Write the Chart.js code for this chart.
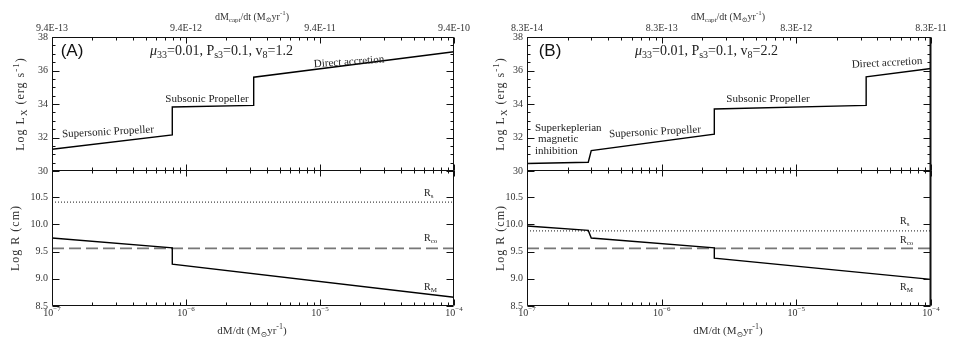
<!DOCTYPE html>
<html><head><meta charset="utf-8">
<script src="https://cdn.jsdelivr.net/npm/chart.js@4.4.0/dist/chart.umd.min.js"></script>
<style>
html,body{margin:0;padding:0;background:#fff;}
#wrap{position:relative;width:965px;height:343px;background:#fff;}
canvas{position:absolute;left:0;top:0;}
</style></head><body>
<div id="wrap">
<canvas id="cA1" width="965" height="343"></canvas>
<canvas id="cA2" width="965" height="343"></canvas>
<canvas id="cB1" width="965" height="343"></canvas>
<canvas id="cB2" width="965" height="343"></canvas>
</div>
<script>
// ---------- data ----------
const xDecades = [1e-7, 1e-6, 1e-5, 1e-4];
const bottomTickExp = ['-7', '-6', '-5', '-4'];
const topTicksA = ['9.4E-13', '9.4E-12', '9.4E-11', '9.4E-10'];
const topTicksB = ['8.3E-14', '8.3E-13', '8.3E-12', '8.3E-11'];
const lumTicks = [30, 32, 34, 36, 38];
const radTicks = [8.5, 9.0, 9.5, 10.0, 10.5];
const edgeX = [1e-7, 1e-4];

// Panel A
const lumAx = [1e-7, 7.9e-7, 7.9e-7, 3.2e-6, 3.2e-6, 1e-4];
const lumAy = [31.3, 32.15, 33.82, 33.92, 35.6, 37.12];
const radMAx = [1e-7, 7.9e-7, 7.9e-7, 1e-4];
const radMAy = [9.75, 9.57, 9.27, 8.66];
const radSAy = [10.41, 10.41];
const radCoAy = [9.56, 9.56];

// Panel B
const lumBx = [1e-7, 2.85e-7, 3.0e-7, 2.46e-6, 2.46e-6, 3.3e-5, 3.3e-5, 1e-4];
const lumBy = [30.45, 30.52, 31.22, 32.2, 33.7, 33.92, 35.62, 36.12];
const radMBx = [1e-7, 2.85e-7, 3.0e-7, 2.46e-6, 2.46e-6, 1e-4];
const radMBy = [9.97, 9.89, 9.75, 9.57, 9.38, 8.99];
const radSBy = [9.88, 9.88];
const radCoBy = [9.56, 9.56];

// ---------- helpers ----------
const SERIF = '"Liberation Serif","DejaVu Serif",serif';
const SANS = '"Liberation Sans","DejaVu Sans",sans-serif';
function pts(xs, ys) { return xs.map((x, i) => ({x: x, y: ys[i]})); }

function rich(ctx, parts, x, y, size, align, opts) {
  opts = opts || {};
  const fam = opts.family || SERIF;
  const col = opts.color || '#222';
  const fontFor = (m, it) => (it ? 'italic ' : '') + (m === 'n' ? size : Math.round(size * 0.72)) + 'px ' + fam;
  ctx.save();
  if (opts.spacing) ctx.letterSpacing = opts.spacing + 'px';
  let w = 0;
  for (const p of parts) { ctx.font = fontFor(p[1], p[2]); w += ctx.measureText(p[0]).width; }
  let cx = align === 'center' ? x - w / 2 : (align === 'right' ? x - w : x);
  ctx.fillStyle = col;
  ctx.textBaseline = 'middle';
  ctx.textAlign = 'left';
  for (const p of parts) {
    ctx.font = fontFor(p[1], p[2]);
    let dy = 0;
    if (p[1] === 'b') dy = size * 0.32;
    if (p[1] === 'p') dy = -size * 0.36;
    ctx.fillText(p[0], cx, y + dy);
    cx += ctx.measureText(p[0]).width;
  }
  ctx.restore();
  return w;
}
function richRot(ctx, parts, x, y, size, angleDeg, align, opts) {
  ctx.save();
  ctx.translate(x, y);
  ctx.rotate(angleDeg * Math.PI / 180);
  rich(ctx, parts, 0, 0, size, align || 'center', opts);
  ctx.restore();
}

const framePlugin = {
  id: 'frame',
  afterDraw(chart, args, o) {
    const ctx = chart.ctx, a = chart.chartArea;
    const xs = chart.scales.x, ys = chart.scales.y;
    ctx.save();
    ctx.strokeStyle = '#111';
    ctx.lineWidth = 1;
    const L = Math.round(a.left) + 0.5, R = Math.round(a.right) - 0.5;
    const T = Math.round(a.top) + 0.5, B = Math.round(a.bottom) - 0.5;
    ctx.beginPath();
    ctx.rect(L, T, R - L, B - T);
    ctx.stroke();
    if (o.thickRight) {
      ctx.beginPath();
      ctx.lineWidth = 2;
      ctx.moveTo(R, T); ctx.lineTo(R, B);
      ctx.stroke();
      ctx.lineWidth = 1;
    }
    ctx.beginPath();
    // x ticks (log) on top and bottom, inward
    for (let d = -7; d <= -4; d++) {
      for (let k = 1; k <= 9; k++) {
        if (d === -4 && k > 1) break;
        const v = k * Math.pow(10, d);
        const px = Math.round(xs.getPixelForValue(v)) + 0.5;
        const len = k === 1 ? 6 : 3;
        ctx.moveTo(px, B); ctx.lineTo(px, B - len);
        ctx.moveTo(px, T); ctx.lineTo(px, T + len);
      }
    }
    // y ticks left and right, inward
    for (const v of o.yMajors) {
      const py = Math.round(ys.getPixelForValue(v)) + 0.5;
      ctx.moveTo(L, py); ctx.lineTo(L + 7, py);
      ctx.moveTo(R, py); ctx.lineTo(R - 7, py);
    }
    if (o.yMinorStep) {
      for (let v = ys.min; v <= ys.max + 1e-9; v += o.yMinorStep) {
        const py = Math.round(ys.getPixelForValue(v)) + 0.5;
        ctx.moveTo(L, py); ctx.lineTo(L + 3, py);
        ctx.moveTo(R, py); ctx.lineTo(R - 3, py);
      }
    }
    ctx.stroke();
    ctx.restore();

    // y tick labels
    for (const v of o.yMajors) {
      const py = ys.getPixelForValue(v);
      rich(ctx, [[o.yFmt(v), 'n']], a.left - 4, py, 10, 'right', {color: '#333'});
    }
    // top x labels
    if (o.topLabels) {
      xDecades.forEach((v, i) => {
        rich(ctx, [[o.topLabels[i], 'n']], xs.getPixelForValue(v), 28, 10, 'center', {color: '#333'});
      });
    }
    if (o.bottomLabels) {
      xDecades.forEach((v, i) => {
        rich(ctx, [['10', 'n'], ['\u2212' + bottomTickExp[i].replace('-', ''), 'p']], xs.getPixelForValue(v), 313, 10, 'center', {color: '#333'});
      });
    }
    if (o.extra) o.extra(ctx, chart);
  }
};
Chart.register(framePlugin);

function makeChart(id, datasets, pad, yMin, yMax, frameOpts) {
  return new Chart(document.getElementById(id), {
    type: 'line',
    data: {datasets: datasets},
    options: {
      responsive: false,
      animation: false,
      layout: {padding: pad},
      elements: {point: {radius: 0}, line: {tension: 0}},
      scales: {
        x: {type: 'logarithmic', min: 1e-7, max: 1e-4, display: false},
        y: {type: 'linear', min: yMin, max: yMax, display: false}
      },
      plugins: {legend: {display: false}, tooltip: {enabled: false}, frame: frameOpts}
    }
  });
}
function solid(data) { return {data: data, borderColor: '#000', borderWidth: 1.4, fill: false}; }
function dotted(data) { return {data: data, borderColor: '#444', borderWidth: 1.2, borderDash: [1, 2], fill: false}; }
function dashed(data) { return {data: data, borderColor: '#777', borderWidth: 1.6, borderDash: [12, 5], fill: false}; }

const lumFmt = v => String(v);
const radFmt = v => v.toFixed(1);
const titleOpts = {color: '#333', spacing: 1};

// ---------- Panel A ----------
makeChart('cA1', [solid(pts(lumAx, lumAy))], {left: 52, right: 965 - 454, top: 37, bottom: 343 - 171}, 30, 38, {
  yMajors: lumTicks, yMinorStep: 0.5, yFmt: lumFmt, topLabels: topTicksA,
  extra(ctx) {
    rich(ctx, [['dM', 'n'], ['capt', 'b'], ['/dt (M', 'n'], ['\u2299', 'b'], ['yr', 'n'], ['-1', 'p'], [')', 'n']], 252, 17, 10, 'center', {color: '#333'});
    rich(ctx, [['(A)', 'n']], 72, 51, 17, 'center', {family: SANS, color: '#111'});
    rich(ctx, [['\u03bc', 'n', true], ['33', 'b'], ['=0.01, P', 'n'], ['s3', 'b'], ['=0.1, v', 'n'], ['8', 'b'], ['=1.2', 'n']], 150, 51, 14, 'left', {color: '#222'});
    richRot(ctx, [['Direct accretion', 'n']], 349, 62, 11, -4);
    rich(ctx, [['Subsonic Propeller', 'n']], 207, 99, 11, 'center');
    richRot(ctx, [['Supersonic Propeller', 'n']], 108, 132, 11, -3);
    richRot(ctx, [['Log L', 'n'], ['X', 'b'], [' (erg s', 'n'], ['-1', 'p'], [')', 'n']], 21, 104, 12, -90, 'center', titleOpts);
  }
});
makeChart('cA2', [solid(pts(radMAx, radMAy)), dotted(pts(edgeX, radSAy)), dashed(pts(edgeX, radCoAy))],
  {left: 52, right: 965 - 454, top: 170, bottom: 343 - 306}, 8.5, 11.0, {
  yMajors: radTicks, yMinorStep: 0, yFmt: radFmt, bottomLabels: true,
  extra(ctx) {
    rich(ctx, [['dM/dt (M', 'n'], ['\u2299', 'b'], ['yr', 'n'], ['-1', 'p'], [')', 'n']], 252, 331, 11, 'center', {color: '#333'});
    rich(ctx, [['R', 'n'], ['s', 'b']], 424, 193, 10, 'left');
    rich(ctx, [['R', 'n'], ['co', 'b']], 424, 238, 10, 'left');
    rich(ctx, [['R', 'n'], ['M', 'b']], 424, 287, 10, 'left');
    richRot(ctx, [['Log R (cm)', 'n']], 16, 238, 12, -90, 'center', titleOpts);
  }
});

// ---------- Panel B ----------
makeChart('cB1', [solid(pts(lumBx, lumBy))], {left: 527, right: 965 - 931, top: 37, bottom: 343 - 171}, 30, 38, {
  yMajors: lumTicks, yMinorStep: 0.5, yFmt: lumFmt, topLabels: topTicksB, thickRight: true,
  extra(ctx) {
    rich(ctx, [['dM', 'n'], ['capt', 'b'], ['/dt (M', 'n'], ['\u2299', 'b'], ['yr', 'n'], ['-1', 'p'], [')', 'n']], 728, 17, 10, 'center', {color: '#333'});
    rich(ctx, [['(B)', 'n']], 550, 51, 17, 'center', {family: SANS, color: '#111'});
    rich(ctx, [['\u03bc', 'n', true], ['33', 'b'], ['=0.01, P', 'n'], ['s3', 'b'], ['=0.1, v', 'n'], ['8', 'b'], ['=2.2', 'n']], 635, 51, 14, 'left', {color: '#222'});
    richRot(ctx, [['Direct accretion', 'n']], 887, 63, 11, -3);
    rich(ctx, [['Subsonic Propeller', 'n']], 768, 99, 11, 'center');
    richRot(ctx, [['Supersonic Propeller', 'n']], 655, 132, 11, -3);
    rich(ctx, [['Superkeplerian', 'n']], 535, 128, 11, 'left');
    rich(ctx, [['magnetic', 'n']], 538, 139, 11, 'left');
    rich(ctx, [['inhibition', 'n']], 535, 151, 11, 'left');
    richRot(ctx, [['Log L', 'n'], ['X', 'b'], [' (erg s', 'n'], ['-1', 'p'], [')', 'n']], 501, 104, 12, -90, 'center', titleOpts);
  }
});
makeChart('cB2', [solid(pts(radMBx, radMBy)), dotted(pts(edgeX, radSBy)), dashed(pts(edgeX, radCoBy))],
  {left: 527, right: 965 - 931, top: 170, bottom: 343 - 306}, 8.5, 11.0, {
  yMajors: radTicks, yMinorStep: 0, yFmt: radFmt, bottomLabels: true, thickRight: true,
  extra(ctx) {
    rich(ctx, [['dM/dt (M', 'n'], ['\u2299', 'b'], ['yr', 'n'], ['-1', 'p'], [')', 'n']], 728, 331, 11, 'center', {color: '#333'});
    rich(ctx, [['R', 'n'], ['s', 'b']], 900, 221, 10, 'left');
    rich(ctx, [['R', 'n'], ['co', 'b']], 900, 240, 10, 'left');
    rich(ctx, [['R', 'n'], ['M', 'b']], 900, 287, 10, 'left');
    richRot(ctx, [['Log R (cm)', 'n']], 501, 238, 12, -90, 'center', titleOpts);
  }
});
</script>
</body></html>
